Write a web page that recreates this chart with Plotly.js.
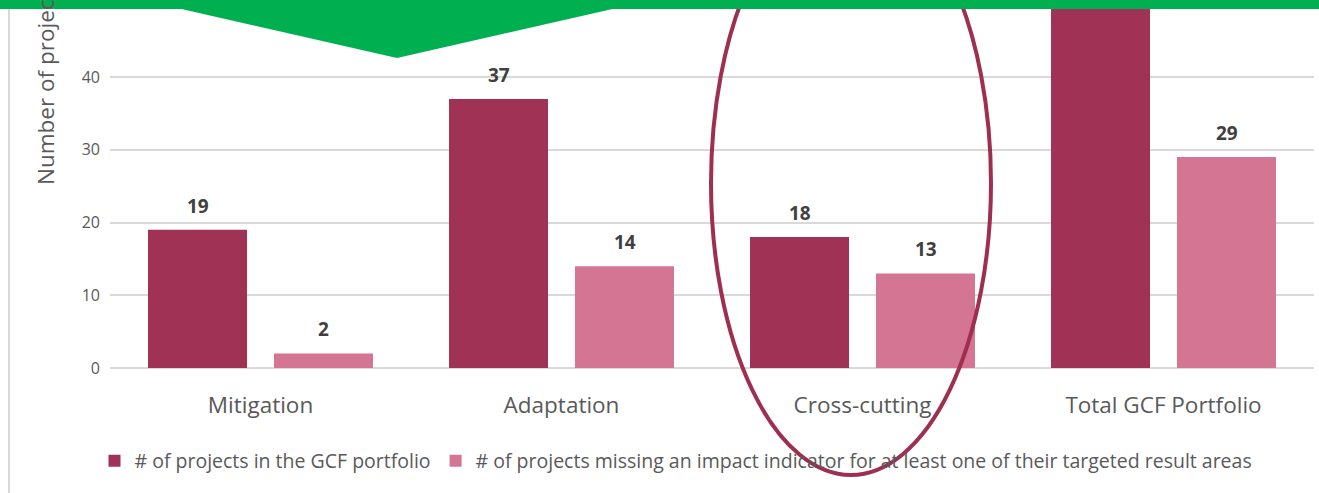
<!DOCTYPE html>
<html>
<head>
<meta charset="utf-8">
<script src="https://cdn.plot.ly/plotly-3.0.1.min.js"></script>
<style>
  html, body { margin: 0; padding: 0; background: #ffffff; }
  #chart { width: 1319px; height: 493px; }
</style>
</head>
<body>
<div id="chart"></div>
<script>
// ---- data ----
const categories = ['Mitigation', 'Adaptation', 'Cross-cutting', 'Total GCF Portfolio'];
const seriesNames = [
  '# of projects in the GCF portfolio',
  '# of projects missing an impact indicator for at least one of their targeted result areas'
];
const projectsInPortfolio = [19, 37, 18, 74];
const projectsMissingIndicator = [2, 14, 13, 29];
const yTickValues = [0, 10, 20, 30, 40, 50];
const yAxisTitle = 'Number of projects';

// ---- styling ----
const darkColor = '#A03256';
const lightColor = '#D47594';
const textGrey = '#595959';
const fontFamily = '"Open Sans", "Noto Sans", sans-serif';

const yMax = 50.6;

// figure geometry (pixels) used for decoration shapes
const W = 1319, H = 493;
const mL = 110, mR = 5, mT = 0, mB = 125;
const plotW = W - mL - mR, plotH = H - mT - mB;
const px = v => (v - mL) / plotW;
const py = v => (H - mB - v) / plotH;

const traces = [
  {
    type: 'bar', name: seriesNames[0], x: categories, y: projectsInPortfolio,
    marker: { color: darkColor }, hoverinfo: 'x+y'
  },
  {
    type: 'bar', name: seriesNames[1], x: categories, y: projectsMissingIndicator,
    marker: { color: lightColor }, hoverinfo: 'x+y'
  }
];

// value labels above each bar (skip those outside the visible range)
const slotShift = 63;
const annotations = [];
[projectsInPortfolio, projectsMissingIndicator].forEach((vals, si) => {
  vals.forEach((v, i) => {
    if (v > yMax) return;
    annotations.push({
      x: categories[i], y: v, xref: 'x', yref: 'y',
      text: String(v), showarrow: false,
      xshift: si === 0 ? -slotShift : slotShift, yshift: 9,
      yanchor: 'bottom', xanchor: 'center',
      font: { family: fontFamily, size: 19, color: '#404040', weight: 'bold' }
    });
  });
});
annotations.push({
  text: yAxisTitle, textangle: -90, showarrow: false,
  xref: 'paper', yref: 'paper', x: px(45), y: py(187),
  xanchor: 'center', yanchor: 'bottom',
  font: { family: fontFamily, size: 22.5, color: textGrey }
});

const shapes = [
  // left frame line
  { type: 'line', xref: 'paper', yref: 'paper', x0: px(9), x1: px(9), y0: py(9), y1: py(H + 5),
    line: { color: '#d9d9d9', width: 2 } },
  // red ellipse highlight
  { type: 'circle', xref: 'paper', yref: 'paper', x0: px(711), x1: px(991), y0: py(475), y1: py(-109),
    line: { color: '#9E2F50', width: 4 }, fillcolor: 'rgba(0,0,0,0)', layer: 'above' },
  // green triangle
  { type: 'path', xref: 'paper', yref: 'paper',
    path: `M ${px(142)},${py(0)} L ${px(652)},${py(0)} L ${px(397)},${py(58)} Z`,
    fillcolor: '#00B050', line: { width: 0 }, layer: 'above' },
  // green band
  { type: 'rect', xref: 'paper', yref: 'paper', x0: px(-5), x1: px(W + 5), y0: py(9), y1: py(-5),
    fillcolor: '#00B050', line: { width: 0 }, layer: 'above' }
];

const layout = {
  width: W, height: H,
  margin: { l: mL, r: mR, t: mT, b: mB, pad: 0 },
  paper_bgcolor: '#ffffff', plot_bgcolor: '#ffffff',
  font: { family: fontFamily, color: textGrey },
  barmode: 'group', bargap: 0.163, bargroupgap: 0.214,
  showlegend: true,
  legend: {
    orientation: 'h', x: px(676), xanchor: 'center', y: py(461), yanchor: 'middle',
    font: { family: fontFamily, size: 19.5, color: textGrey },
    bgcolor: 'rgba(0,0,0,0)', itemclick: false, itemdoubleclick: false
  },
  xaxis: {
    type: 'category', showgrid: false, showline: false, zeroline: false,
    ticks: '', tickfont: { family: fontFamily, size: 22.5, color: textGrey },
    ticklabelstandoff: 21
  },
  yaxis: {
    range: [0, yMax], tickvals: yTickValues, showgrid: true,
    gridcolor: '#d9d9d9', gridwidth: 2, zeroline: true, zerolinecolor: '#d9d9d9', zerolinewidth: 2,
    showline: false, ticks: '', tickfont: { family: fontFamily, size: 16, color: textGrey },
    ticklabelstandoff: 9
  },
  annotations: annotations,
  shapes: shapes
};

Plotly.newPlot('chart', traces, layout, { displayModeBar: false, staticPlot: true });
</script>
</body>
</html>
